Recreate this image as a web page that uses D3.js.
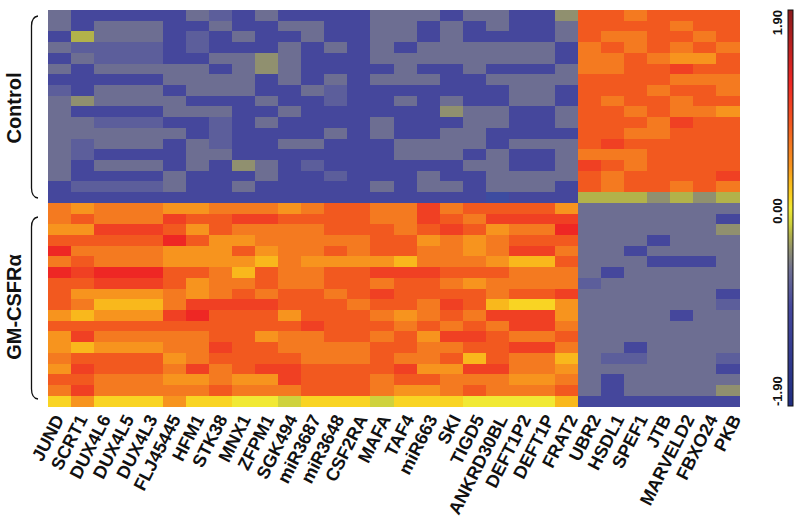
<!DOCTYPE html>
<html>
<head>
<meta charset="utf-8">
<script src="https://cdn.jsdelivr.net/npm/d3@7"></script>
<style>
  html, body { margin: 0; padding: 0; background: #fff; }
  svg { display: block; }
  text { font-family: "Liberation Sans", Arial, sans-serif; font-weight: bold; fill: #111; }
</style>
</head>
<body>
<div id="heatmap"></div>
<script>
// Gene names, left to right
const genes = ["JUND", "SCRT1", "DUX4L6", "DUX4L5", "DUX4L3", "FLJ45445", "HFM1", "STK38", "MNX1", "ZFPM1",
  "SGK494", "miR3687", "miR3648", "CSF2RA", "MAFA", "TAF4", "miR663", "SKI", "TIGD5", "ANKRD30BL",
  "DEFT1P2", "DEFT1P", "FRAT2", "UBR2", "HSDL1", "SPEF1", "JTB", "MARVELD2", "FBXO24", "PKB"];

// Expression, one letter per cell (see levelCodes)
const controlRows = [
  "dbbbbbdcbdbbbbdddbddbbemmlmmmm",
  "dbdddbbdbbddbbddbdbdbbdmmmmlmm",
  "bfdddbcbdbbdbbddbdbbbbdmllmmlm",
  "dccccbcbbbdbdbdbddddddblmlmlml",
  "bdcccbbddedbbbddddddddbllmlkkm",
  "dbdddddbdedbbbbdbbdbbbdllmmnmm",
  "bbbbbddddbdbdbdddbbddddmmmmlll",
  "cbdddbdddbbdcbbbbbbbddbmmmlmml",
  "deddddbbbdbbcbbdbdbbddbmlmmlmm",
  "dbbbbdddbbdbbbbbbeddbbdmmlmllk",
  "ddcccbbcbdbbbbdbbbddbbdmmmlnmm",
  "ddddddbcbbbbdbdbbddbbbbmmllmmm",
  "dcdddbdcbbddbbbddddbdddmnmmmmm",
  "dcbbbbddbbbbbbbdddbdbbdlllmmmm",
  "dbdddbdbedbcbbbbbbddbbdnmlmmmm",
  "dbbbbdbbbdbbcbbbdbbddddmlmmmmn",
  "bccccdbbdbbbbbdbddbdddbmlmmlml",
  "bbbbbbbbbbbbbbbbbbbabbbfffefef"
];
const gmRows = [
  "lklllkklllklmmllnlmmmmkddddddd",
  "lmlllnmmnnmmmmllnmlnnnnddddddb",
  "kknnnmkmllllmmmlmnmkllodddddde",
  "mmmmmomkklllllmmklklmmmdddbddd",
  "ollllkkkmkllmlmmllklnnlddbdddd",
  "lmlllkkkkjlkkkkjlllkjjmdddbbbd",
  "onooommljmllmmnnnmmmllldbddddd",
  "mmnnnmkllmllmmlmmlkllllcdddddd",
  "mkkkklklmlmmlmnmmmmlmmnddddddb",
  "mljjjlnnnnmmmlmmlnmjiikddddddc",
  "kjkkknommmkmmmlklmlnnnkddddbdd",
  "mmmmmmmmmmmnmmmlmlmlnnlddddddd",
  "knlllllmmkllmmlmknnmllmddddddd",
  "kjkkkllnmmllllmmllmmnnlddbdddd",
  "lmmmmklmmmmlllmllmjmlljdccdddc",
  "knmmmlnlmnnmmmmnkknnllkddddddb",
  "mmlllkklkknmmmlmmlllkkldbddddd",
  "lnlllllmlllmmmlkklmlllmdbdddde",
  "ikiiikiihhgiiigiiihhhhjbbbbbbb"
];

// Colour key: one value and colour per letter
const levelCodes  = ["a", "b", "c", "d", "e", "f", "g", "h", "i", "j", "k", "l", "m", "n", "o"];
const levelValues = [-1.0, -0.95, -0.8, -0.6, -0.4, -0.25, -0.15, 0, 0.1, 0.25, 0.4, 0.6, 0.8, 1.0, 1.2];
const levelColors = ["#3d4ca0", "#45479c", "#5c5e9b", "#6d6e92", "#90906f", "#b2b24a", "#cfd23c", "#f1e934",
  "#f9d423", "#f9b81c", "#f7941e", "#f47a20", "#f2591f", "#f04023", "#ee2724"];

// Colour bar ends and ticks
const barValues = [-1.9, -0.95, -0.6, -0.4, -0.25, -0.15, 0, 0.1, 0.25, 0.4, 0.6, 0.8, 1.0, 1.2, 1.9];
const barColors = ["#1f2d80", "#45479c", "#6d6e92", "#90906f", "#b2b24a", "#cfd23c", "#f1e934",
  "#f9d423", "#f9b81c", "#f7941e", "#f47a20", "#f2591f", "#f04023", "#ee2724", "#8a1a1c"];
const barTicks = [1.9, 0, -1.9];

const width = 800, height = 522;
const margin = { top: 10, left: 48, right: 61, bottom: 115.5 };

const svg = d3.select("#heatmap").append("svg")
    .attr("width", width)
    .attr("height", height);

const rows = controlRows.concat(gmRows);

// Scales
const x = d3.scaleBand()
    .domain(genes)
    .range([margin.left, width - margin.right]);
const y = d3.scaleBand()
    .domain(d3.range(rows.length))
    .range([margin.top, height - margin.bottom]);
const color = d3.scaleOrdinal().domain(levelCodes).range(levelColors);
const valueOf = d3.scaleOrdinal().domain(levelCodes).range(levelValues);
const barColor = d3.scaleLinear().domain(barValues).range(barColors);

// Cells
const cells = rows.flatMap((r, i) => genes.map((g, j) => ({ gene: g, row: i, code: r[j], value: valueOf(r[j]) })));
svg.append("g")
    .attr("shape-rendering", "crispEdges")
  .selectAll("rect")
  .data(cells)
  .enter().append("rect")
    .attr("x", d => x(d.gene))
    .attr("y", d => y(d.row))
    .attr("width", x.bandwidth() + 0.5)
    .attr("height", y.bandwidth() + 0.5)
    .attr("fill", d => color(d.code));

// Gene labels: they fan out slightly wider than the columns
const labelX = d3.scalePoint().domain(genes).range([59, 736]);
svg.append("g").selectAll("text")
  .data(genes)
  .enter().append("text")
    .attr("text-anchor", "end")
    .attr("transform", d => "translate(" + labelX(d) + ",416) rotate(-63)")
    .attr("dy", "0.35em")
    .style("font-size", "18px")
    .text(d => d);

// Group brackets
function bracket(top, bottom) {
  const p = d3.path();
  p.moveTo(38, top);
  p.quadraticCurveTo(31.5, top + 1, 31.5, top + 10);
  p.lineTo(31.5, bottom - 10);
  p.quadraticCurveTo(31.5, bottom - 1, 38, bottom);
  return p.toString();
}
const groups = [
  { name: "Control", top: 16, bottom: 198, mid: 108 },
  { name: "GM-CSFR\u03b1", top: 217, bottom: 399, mid: 307 }
];
svg.append("g").selectAll("path")
  .data(groups)
  .enter().append("path")
    .attr("d", d => bracket(d.top, d.bottom))
    .attr("fill", "none")
    .attr("stroke", "#111")
    .attr("stroke-width", 1.3);
svg.append("g").selectAll("text")
  .data(groups)
  .enter().append("text")
    .attr("text-anchor", "middle")
    .attr("transform", d => "translate(21," + d.mid + ") rotate(-90)")
    .style("font-size", "20px")
    .text(d => d.name);

// Colour bar
const barY = d3.scaleLinear().domain([-1.9, 1.9]).range([406, 10]);
const barX = 788, barW = 5;
const grad = svg.append("defs").append("linearGradient")
    .attr("id", "bar")
    .attr("x1", 0).attr("x2", 0).attr("y1", 1).attr("y2", 0);
grad.selectAll("stop")
  .data(barValues)
  .enter().append("stop")
    .attr("offset", d => (d + 1.9) / 3.8)
    .attr("stop-color", d => barColor(d));
svg.append("rect")
    .attr("x", barX)
    .attr("y", barY(1.9))
    .attr("width", barW)
    .attr("height", barY(-1.9) - barY(1.9))
    .attr("fill", "url(#bar)")
    .attr("stroke", "#111")
    .attr("stroke-width", 1);

svg.append("g").selectAll("text")
  .data(barTicks)
  .enter().append("text")
    .attr("text-anchor", d => d > 0 ? "end" : d < 0 ? "start" : "middle")
    .attr("transform", d => "translate(782," + (d > 0 ? 10 : d < 0 ? 406 : 211) + ") rotate(-90)")
    .style("font-size", "13px")
    .text(d => d.toFixed(2));
</script>
</body>
</html>
